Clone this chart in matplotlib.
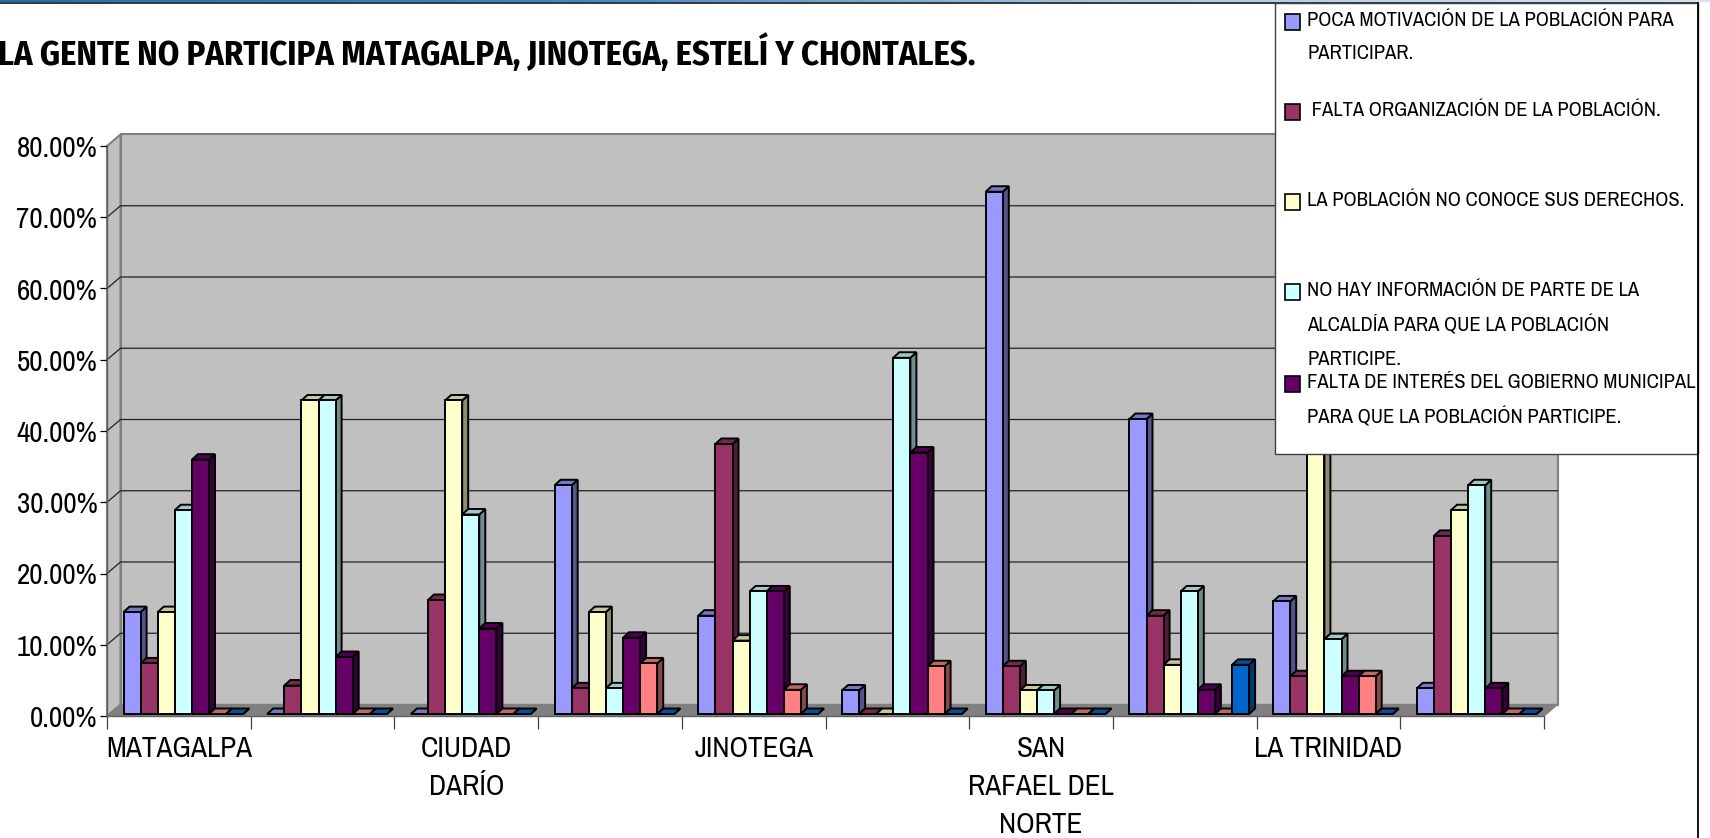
import matplotlib
matplotlib.use("Agg")
import matplotlib.pyplot as plt
import numpy as np
from matplotlib.patches import Polygon, Rectangle
from matplotlib.colors import to_rgb, LinearSegmentedColormap

W, H = 1710, 838

categories = ["MATAGALPA", "", "CIUDAD\nDARÍO", "", "JINOTEGA", "",
              "SAN\nRAFAEL DEL\nNORTE", "", "LA TRINIDAD", ""]

poca_motivacion = [14.3, 0, 0, 32.1, 13.8, 3.3, 73.3, 41.4, 15.8, 3.6]
falta_organizacion = [7.1, 4.0, 16.0, 3.6, 37.9, 0, 6.7, 13.8, 5.3, 25.0]
no_conoce = [14.3, 44.0, 44.0, 14.3, 10.3, 0, 3.3, 6.9, 57.9, 28.6]
no_informacion = [28.6, 44.0, 28.0, 3.6, 17.2, 50.0, 3.3, 17.2, 10.5, 32.1]
falta_interes = [35.7, 8.0, 12.0, 10.7, 17.2, 36.7, 0, 3.4, 5.3, 3.6]
serie_6 = [0, 0, 0, 7.1, 3.4, 6.7, 0, 0, 5.3, 0]
serie_7 = [0, 0, 0, 0, 0, 0, 0, 6.9, 0, 0]

series = [poca_motivacion, falta_organizacion, no_conoce, no_informacion,
          falta_interes, serie_6, serie_7]
colors = ["#9999FF", "#993366", "#FFFFCC", "#CCFFFF", "#660066", "#FF8080", "#0066CC"]

y_ticks = [0, 10, 20, 30, 40, 50, 60, 70, 80]

legend_labels = [
    "POCA MOTIVACIÓN DE LA POBLACIÓN PARA\nPARTICIPAR.",
    " FALTA ORGANIZACIÓN DE LA POBLACIÓN.",
    "LA POBLACIÓN NO CONOCE SUS DERECHOS.",
    "NO HAY INFORMACIÓN DE PARTE DE LA\nALCALDÍA PARA QUE LA POBLACIÓN\nPARTICIPE.",
    "FALTA DE INTERÉS DEL GOBIERNO MUNICIPAL\nPARA QUE LA POBLACIÓN PARTICIPE.",
]
legend_tops = [9, 99, 189, 279, 371]

TITLE = "LA GENTE NO PARTICIPA MATAGALPA, JINOTEGA, ESTELÍ Y CHONTALES."
NARROW = ["Archivo Narrow", "Liberation Sans"]
NARROW_BOLD = ["Fira Sans Condensed", "Liberation Sans"]


def shade(color, f):
    r, g, b = to_rgb(color)
    return (r * f, g * f, b * f)


fig = plt.figure(figsize=(W / 100, H / 100), dpi=100, facecolor="white")
ax = fig.add_axes([107 / W, 1 - 716 / H, (1544 - 107) / W, (716 - 146) / H])
ax.set_xlim(0, 10)
ax.set_ylim(0, 80)
ax.patch.set_visible(False)
for s in ax.spines.values():
    s.set_visible(False)

# chart depth, pixels converted to data units
px = 10 / (1544 - 107)
py = 80 / (716 - 146)
wall_dx, wall_dy = 13.5 * px, 11.5 * py
bar_dx, bar_dy = 6 * px, 5.5 * py
lift = 2 * py
bar_w = 17.1 * px
bar_x0 = 16.5 * px

# walls and floor
ax.add_patch(Polygon([(wall_dx, wall_dy), (10 + wall_dx, wall_dy), (10 + wall_dx, 80 + wall_dy), (wall_dx, 80 + wall_dy)],
                     fc="#C0C0C0", ec="#808080", lw=1.5, clip_on=False, zorder=1))
ax.add_patch(Polygon([(0, 0), (wall_dx, wall_dy), (wall_dx, 80 + wall_dy), (0, 80)],
                     fc="#C0C0C0", ec="#808080", lw=1.5, clip_on=False, zorder=1))
ax.add_patch(Polygon([(0, 0), (10, 0), (10 + wall_dx, wall_dy), (wall_dx, wall_dy)],
                     fc="#808080", ec="#808080", lw=1, clip_on=False, zorder=1))
for t in y_ticks[1:-1]:
    ax.plot([0, wall_dx, 10 + wall_dx], [t, t + wall_dy, t + wall_dy], color="#222222", lw=0.9,
            clip_on=False, zorder=2)

for i, (vals, col) in enumerate(zip(series, colors)):
    for c, v in enumerate(vals):
        x0 = c + bar_x0 + i * bar_w
        x1 = x0 + bar_w
        top = v + lift
        ax.add_patch(Polygon([(x1, lift), (x1 + bar_dx, lift + bar_dy), (x1 + bar_dx, top + bar_dy), (x1, top)],
                             fc=shade(col, 0.55), ec="black", lw=1.4, clip_on=False, zorder=3 + i))
        ax.add_patch(Polygon([(x0, top), (x1, top), (x1 + bar_dx, top + bar_dy), (x0 + bar_dx, top + bar_dy)],
                             fc=shade(col, 0.78), ec="black", lw=1.4, clip_on=False, zorder=3 + i))
    ax.bar([c + bar_x0 + i * bar_w for c in range(10)], vals, bottom=lift, width=bar_w, align="edge",
           color=col, edgecolor="black", linewidth=1.4, clip_on=False, zorder=3.5 + i)

ax.plot([0, 10], [0, 0], color="#606060", lw=1, clip_on=False, zorder=2)
ax.plot([0, 0], [0, 80], color="#606060", lw=1, clip_on=False, zorder=2)

ax.set_yticks(y_ticks)
ax.set_yticklabels([f"{t:.2f}%" for t in y_ticks], family=NARROW, fontsize=21, color="black")
ax.tick_params(axis="y", length=5, width=0.9, pad=2)
ax.set_xticks(range(11))
ax.set_xticklabels([])
ax.tick_params(axis="x", which="major", length=9, width=0.9, color="#404040")
ax.set_xticks([c + 0.5 for c in range(10)], minor=True)
ax.set_xticklabels(categories, minor=True, family=NARROW, fontsize=21, linespacing=1.5, color="black")
ax.tick_params(axis="x", which="minor", length=0, pad=14)

# title, clipped by the left edge like the source image
fig.text(-2 / W, 1 - 65 / H, TITLE, family=NARROW_BOLD, fontsize=24.8, fontweight="bold", va="baseline", ha="left")

# top band and frame
band = fig.add_axes([0, 1 - 2.5 / H, 1, 2.5 / H], zorder=5)
band.axis("off")
band_cmap = LinearSegmentedColormap.from_list("band", ["#1F6FB5", "#3D87C4", "#A9C9E2", "#D5E3EE"])
band.imshow(np.linspace(0, 1, 256)[None, :], cmap=band_cmap, aspect="auto")
fig.add_artist(plt.Line2D([0, 1698 / W], [1 - 3 / H, 1 - 3 / H], color="black", lw=1.1, zorder=6))
fig.add_artist(plt.Line2D([1698 / W, 1698 / W], [1 - 3 / H, 0], color="black", lw=1.3, zorder=12))

# legend box, sits on top of the bars
fig.add_artist(Rectangle((1275 / W, 1 - 454 / H), (1698 - 1275) / W, (454 - 3) / H, transform=fig.transFigure,
                         fc="white", ec="#404040", lw=1, zorder=10))
for label, col, top in zip(legend_labels, colors, legend_tops):
    fig.add_artist(Rectangle((1285 / W, 1 - (top + 21) / H), 14.5 / W, 16 / H, transform=fig.transFigure,
                             fc=col, ec="black", lw=1.2, zorder=11))
    fig.text(1307 / W, 1 - (top + 2) / H, label, family=NARROW, fontsize=14.8, va="top", ha="left", linespacing=1.96, zorder=11)

fig.savefig("out.png", dpi=100, facecolor="white")
